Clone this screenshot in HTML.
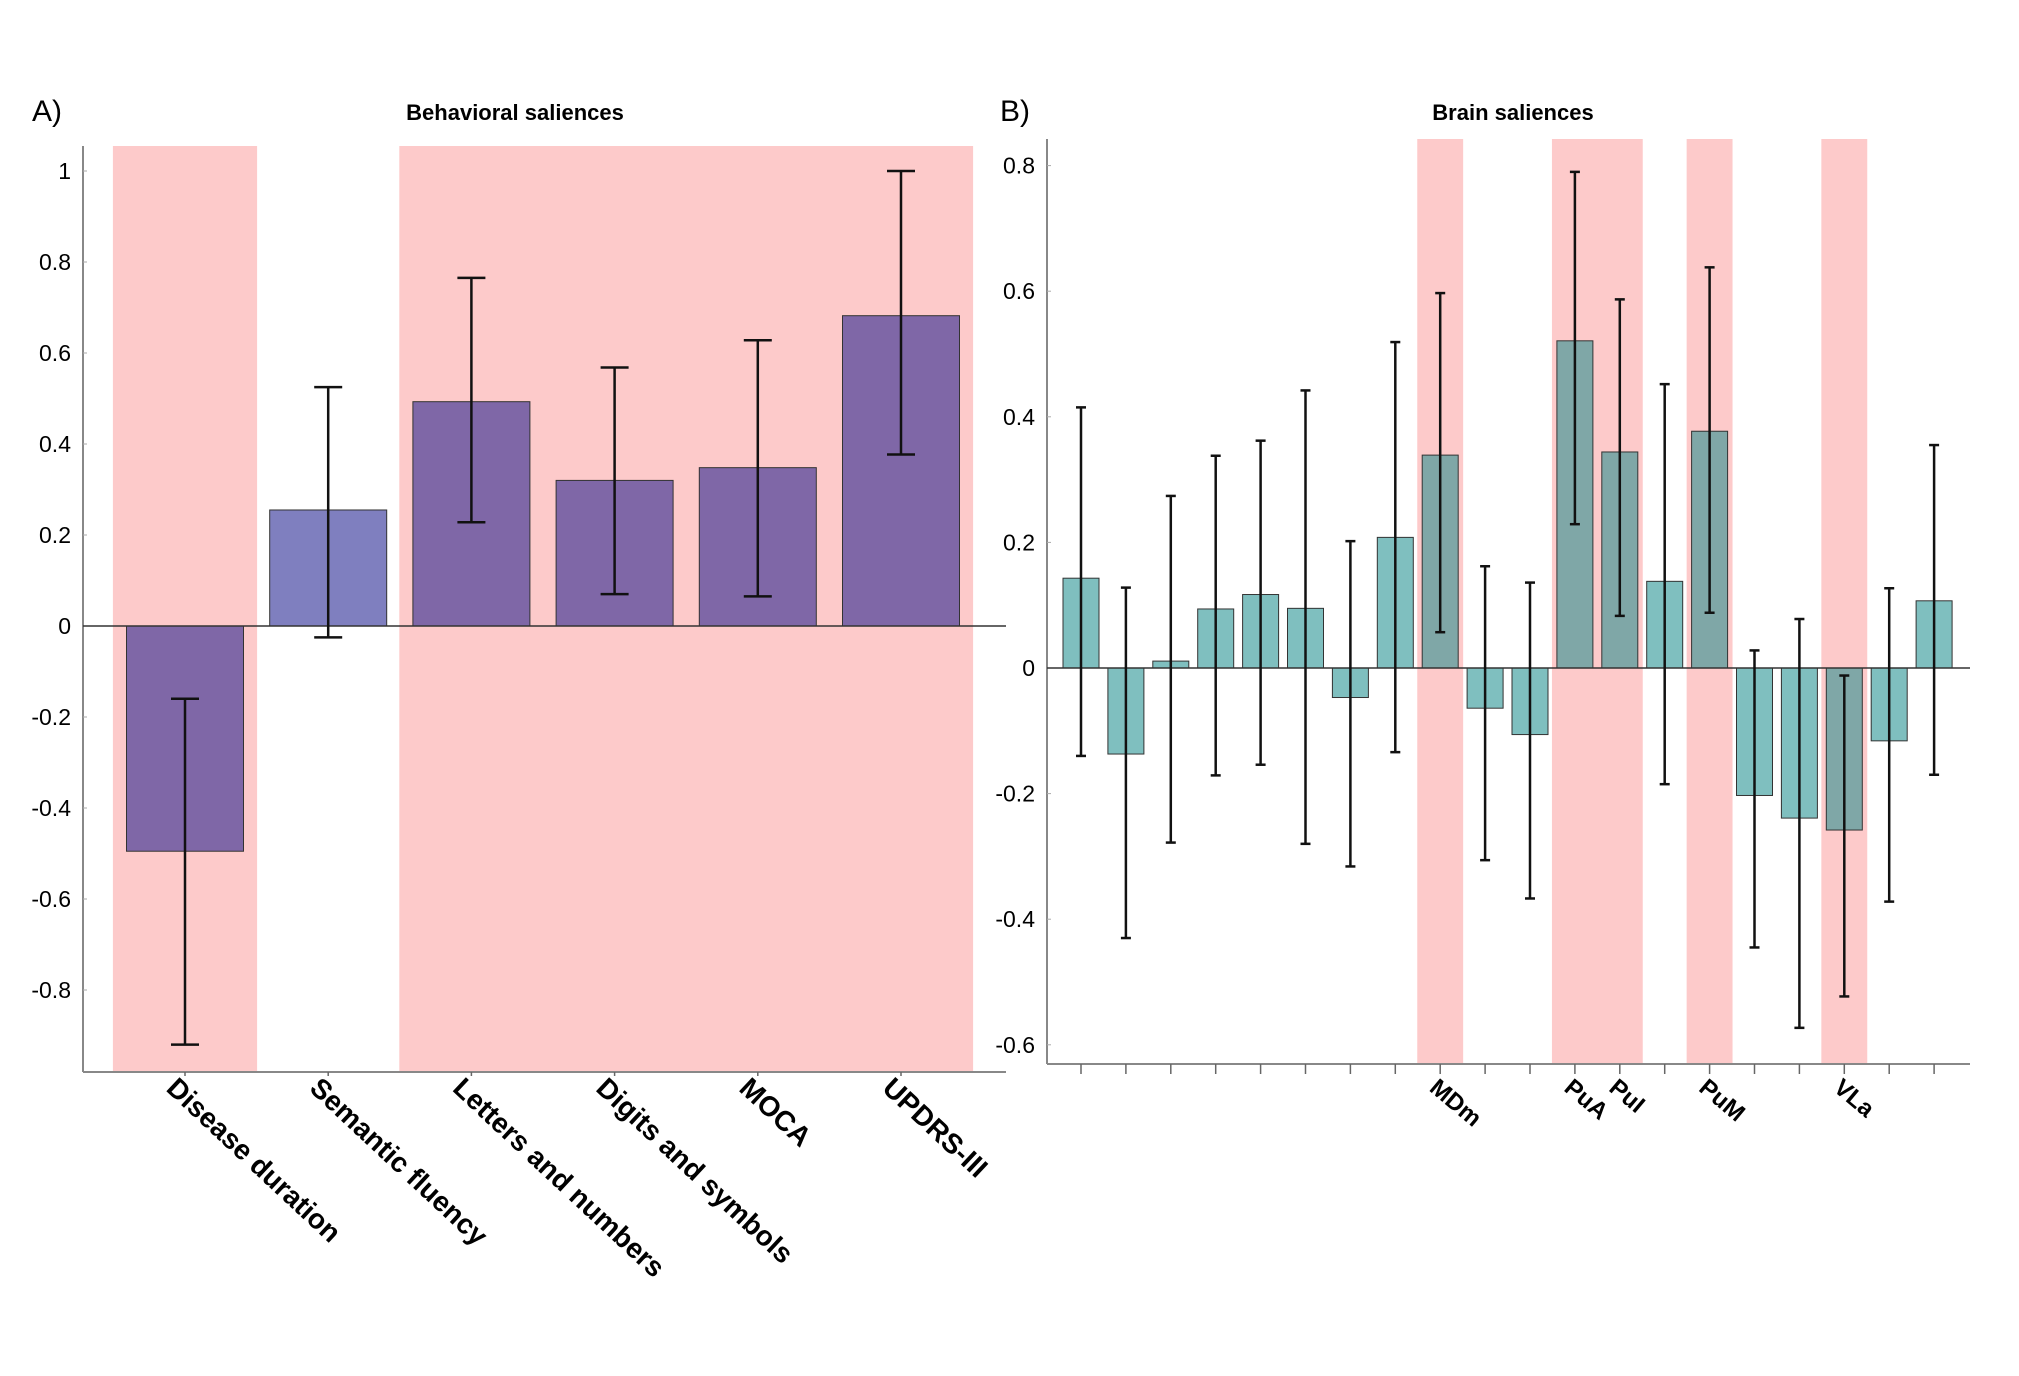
<!DOCTYPE html>
<html><head><meta charset="utf-8"><style>
body{margin:0;background:#fff;}
svg{display:block;font-family:"Liberation Sans",sans-serif;}
</style></head><body>
<svg id="c" width="2019" height="1376" viewBox="0 0 2019 1376">
<text x="32" y="121" font-size="30">A)</text>
<text x="515" y="120" font-size="22" font-weight="bold" text-anchor="middle">Behavioral saliences</text>
<text x="1000" y="121" font-size="30">B)</text>
<text x="1513" y="120" font-size="22" font-weight="bold" text-anchor="middle">Brain saliences</text>
<g id="L"></g>
<g id="R"></g>
</svg>
<script>
const behCats=["Disease duration","Semantic fluency","Letters and numbers","Digits and symbols","MOCA","UPDRS-III"];
const behVals=[-0.495,0.255,0.493,0.32,0.348,0.682];
const behLo=[-0.92,-0.025,0.228,0.07,0.065,0.377];
const behHi=[-0.16,0.525,0.765,0.568,0.628,1.0];
const behSig=[1,0,1,1,1,1];
const behTicks=[1,0.8,0.6,0.4,0.2,0,-0.2,-0.4,-0.6,-0.8];
const brainLabels=["","","","","","","","","MDm","","","PuA","PuI","","PuM","","","VLa","",""];
const brainVals=[0.143,-0.137,0.011,0.094,0.117,0.095,-0.047,0.208,0.339,-0.064,-0.106,0.521,0.344,0.138,0.377,-0.203,-0.239,-0.258,-0.116,0.107];
const brainLo=[-0.14,-0.43,-0.278,-0.171,-0.154,-0.28,-0.316,-0.134,0.057,-0.306,-0.367,0.229,0.083,-0.185,0.088,-0.445,-0.573,-0.523,-0.372,-0.17];
const brainHi=[0.415,0.128,0.274,0.338,0.362,0.442,0.202,0.519,0.597,0.162,0.136,0.79,0.587,0.452,0.638,0.028,0.078,-0.012,0.127,0.355];
const brainSig=[0,0,0,0,0,0,0,0,1,0,0,1,1,0,1,0,0,1,0,0];
const brainTicks=[0.8,0.6,0.4,0.2,0,-0.2,-0.4,-0.6];
const NS="http://www.w3.org/2000/svg";
function mk(p,t,a){const e=document.createElementNS(NS,t);for(const k in a)e.setAttribute(k,a[k]);p.appendChild(e);return e;}
function draw(g,o){
 const y=v=>o.y0-v*o.k, x=i=>o.x1+o.sp*i;
 o.sig.forEach((s,i)=>{if(s){const r=mk(g,'rect',{x:x(i)-o.sp/2-0.5,y:o.top,width:o.sp+1,height:o.bot-o.top,fill:'#fdcaca'});
 
 }});
 mk(g,'line',{x1:o.ax,y1:o.top,x2:o.ax,y2:o.bot,stroke:'#888','stroke-width':2});
 mk(g,'line',{x1:o.ax,y1:o.bot,x2:o.right,y2:o.bot,stroke:'#888','stroke-width':2});
 o.ticks.forEach(t=>{const tx=mk(g,'text',{x:o.ax-12,y:y(t)+8,'font-size':o.fs,'text-anchor':'end'});tx.textContent=(t==0?'0':String(t));
 
 
 mk(g,'line',{x1:o.ax,y1:y(t),x2:o.ax+4,y2:y(t),stroke:'#aaa','stroke-width':1});});
 o.vals.forEach((v,i)=>{
  const r=mk(g,'rect',{x:x(i)-o.bw/2,y:Math.min(y(v),y(0)),width:o.bw,height:Math.abs(y(v)-y(0)),fill:o.sig[i]?o.c2:o.c1,stroke:'#333','stroke-width':1});
  
  
  mk(g,'line',{x1:x(i),y1:o.bot,x2:x(i),y2:o.bot+o.tl,stroke:'#666','stroke-width':1.5});
 });
 mk(g,'line',{x1:o.ax,y1:y(0),x2:o.right,y2:y(0),stroke:'#333','stroke-width':1.5});
 o.vals.forEach((v,i)=>{
  const e=mk(g,'g',{stroke:'#111','stroke-width':o.ew});
  
  
  mk(e,'line',{x1:x(i),y1:y(o.lo[i]),x2:x(i),y2:y(o.hi[i])});
  mk(e,'line',{x1:x(i)-o.cap,y1:y(o.lo[i]),x2:x(i)+o.cap,y2:y(o.lo[i])});
  mk(e,'line',{x1:x(i)-o.cap,y1:y(o.hi[i]),x2:x(i)+o.cap,y2:y(o.hi[i])});
  if(o.labels[i]){const lx=x(i)+o.lox, ly=o.bot+o.loy;
   const t=mk(g,'text',{x:lx,y:ly,'font-size':o.lfs,'font-weight':'bold',transform:`rotate(${o.rot} ${lx} ${ly})`});
   t.textContent=o.labels[i];
   
   }
 });
}
draw(document.getElementById('L'),{x1:185,sp:143.2,bw:117,y0:626,k:455,top:146,bot:1072,ax:83,right:1006,
 vals:behVals,lo:behLo,hi:behHi,sig:behSig,ticks:behTicks,labels:behCats,c1:'#7f7fbf',c2:'#7f67a7',
 fs:23,ew:2.5,cap:14,tl:4,lox:-20,loy:18,lfs:28,rot:43});
draw(document.getElementById('R'),{x1:1081,sp:44.9,bw:36,y0:668,k:628,top:139,bot:1064,ax:1047,right:1970,
 vals:brainVals,lo:brainLo,hi:brainHi,sig:brainSig,ticks:brainTicks,labels:brainLabels,c1:'#7fbfbf',c2:'#7fa7a7',
 fs:23,ew:2.5,cap:5,tl:10,lox:-12,loy:26,lfs:24,rot:40});
</script>
</body></html>
